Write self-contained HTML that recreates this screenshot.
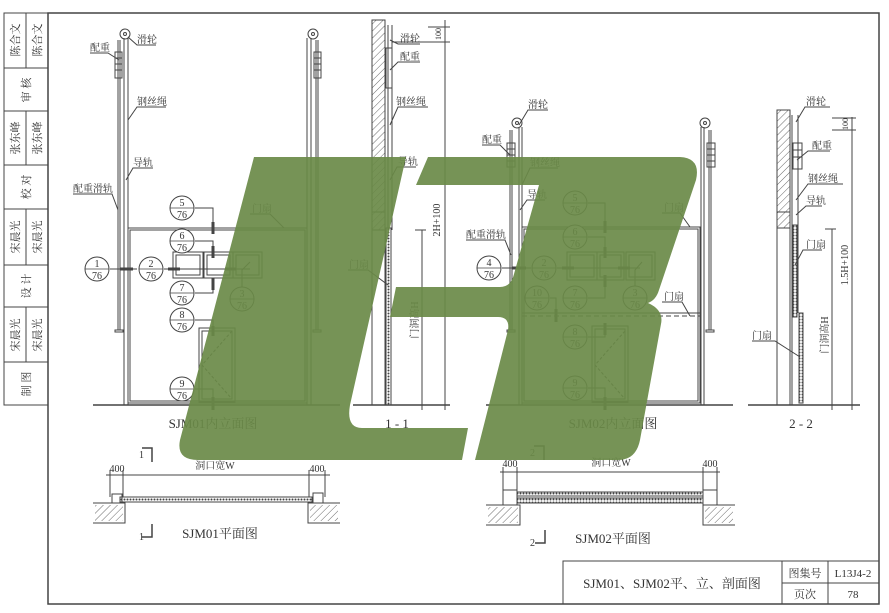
<!DOCTYPE html>
<html><head><meta charset="utf-8"><style>
html,body{margin:0;padding:0;background:#fff;}
svg{display:block;}
text{font-family:"Liberation Serif","Noto Serif CJK SC","Noto Sans CJK SC",serif;fill:#333;}
</style></head><body>
<svg width="889" height="613" viewBox="0 0 889 613" xmlns="http://www.w3.org/2000/svg">
<defs>
<pattern id="hat" width="5" height="5" patternUnits="userSpaceOnUse" patternTransform="rotate(45)">
<line x1="0" y1="0" x2="0" y2="5" stroke="#444" stroke-width="0.8"/></pattern>
<pattern id="dot" width="3" height="3" patternUnits="userSpaceOnUse">
<rect width="3" height="3" fill="#fff"/><circle cx="1.5" cy="1.5" r="1" fill="#444"/></pattern>
</defs>
<g stroke="#444" fill="none" stroke-width="1">
<rect x="48" y="13" width="831" height="591" stroke-width="1.5"/>
<rect x="4" y="13" width="44" height="392"/>
<line x1="4" y1="68" x2="48" y2="68"/><line x1="4" y1="111" x2="48" y2="111"/>
<line x1="4" y1="165" x2="48" y2="165"/><line x1="4" y1="209" x2="48" y2="209"/>
<line x1="4" y1="265" x2="48" y2="265"/><line x1="4" y1="307" x2="48" y2="307"/>
<line x1="4" y1="362" x2="48" y2="362"/>
<line x1="26" y1="13" x2="26" y2="68"/><line x1="26" y1="111" x2="26" y2="165"/>
<line x1="26" y1="209" x2="26" y2="265"/><line x1="26" y1="307" x2="26" y2="362"/>
<rect x="563" y="561" width="316" height="43"/>
<line x1="782" y1="561" x2="782" y2="604"/><line x1="828" y1="561" x2="828" y2="604"/>
<line x1="782" y1="583" x2="879" y2="583"/>

<line x1="93" y1="405" x2="340" y2="405" stroke-width="1.5"/>
<circle cx="125" cy="34" r="5"/><circle cx="125" cy="34" r="1.5"/>
<line x1="118" y1="40" x2="118" y2="330"/><line x1="120" y1="40" x2="120" y2="330"/>
<rect x="115" y="330" width="8" height="2"/>
<rect x="115" y="52" width="7" height="26"/><line x1="115" y1="58" x2="122" y2="58"/><line x1="115" y1="64" x2="122" y2="64"/><line x1="115" y1="70" x2="122" y2="70"/>
<line x1="124" y1="38" x2="124" y2="405"/><line x1="128" y1="38" x2="128" y2="405"/>
<rect x="128" y="228" width="179" height="175"/><rect x="130" y="230" width="175" height="171"/>
<circle cx="313" cy="34" r="5"/><circle cx="313" cy="34" r="1.5"/>
<line x1="316" y1="40" x2="316" y2="330"/><line x1="318" y1="40" x2="318" y2="330"/>
<rect x="313" y="330" width="8" height="2"/>
<rect x="314" y="52" width="7" height="26"/><line x1="314" y1="58" x2="321" y2="58"/><line x1="314" y1="64" x2="321" y2="64"/><line x1="314" y1="70" x2="321" y2="70"/>
<line x1="307" y1="38" x2="307" y2="405"/><line x1="311" y1="38" x2="311" y2="405"/>
<rect x="173" y="252" width="30" height="26"/><rect x="176" y="255" width="24" height="20"/>
<rect x="204" y="252" width="29" height="26"/><rect x="207" y="255" width="23" height="20"/>
<rect x="233" y="252" width="29" height="26"/><rect x="236" y="255" width="23" height="20"/>
<rect x="199" y="328" width="36" height="74"/><rect x="202" y="331" width="30" height="68"/>
<polyline points="232,331 202,365 232,399" stroke-dasharray="3,2"/>
<polyline points="128,37 137,45 156,45"/><polyline points="119,60 108,53 90,53"/>
<polyline points="128,120 137,107 166,107"/><polyline points="126,180 133,168 153,168"/>
<polyline points="118,210 112,194 73,194"/><polyline points="284,228 270,214 250,214"/>
<polyline points="195,208 213,208 213,230"/><polyline points="195,241 213,241 213,258"/>
<polyline points="195,293 213,293 213,278"/><polyline points="195,320 213,320 213,333"/>
<polyline points="195,389 213,389 213,405"/>
<line x1="110" y1="269" x2="137" y2="269"/><line x1="164" y1="269" x2="250" y2="269"/>
<polyline points="242,287 242,270 250,262"/>
<g stroke-width="3">
<line x1="213" y1="222" x2="213" y2="234"/><line x1="213" y1="246" x2="213" y2="258"/><line x1="213" y1="278" x2="213" y2="290"/><line x1="213" y1="326" x2="213" y2="336"/><line x1="213" y1="397" x2="213" y2="410"/>
<line x1="120" y1="269" x2="133" y2="269"/><line x1="168" y1="269" x2="180" y2="269"/><line x1="225" y1="269" x2="236" y2="269"/>
</g>

<rect x="372" y="20" width="13" height="192" fill="url(#hat)"/>
<rect x="372" y="212" width="13" height="18" fill="url(#hat)"/>
<line x1="372" y1="230" x2="372" y2="405"/><line x1="385" y1="230" x2="385" y2="405"/>
<line x1="388" y1="25" x2="388" y2="405"/><line x1="392" y1="25" x2="392" y2="230"/>
<rect x="386" y="48" width="6" height="40"/>
<rect x="386" y="228" width="5" height="177" fill="url(#dot)"/>
<line x1="353" y1="405" x2="450" y2="405" stroke-width="1.5"/>
<line x1="445" y1="20" x2="445" y2="410"/><line x1="422" y1="230" x2="422" y2="410"/>
<line x1="428" y1="27" x2="450" y2="27"/><line x1="392" y1="42" x2="450" y2="42"/>
<line x1="415" y1="230" x2="426" y2="230"/><line x1="415" y1="405" x2="450" y2="405"/>
<polyline points="390,40 398,44 420,44"/><polyline points="390,70 398,62 420,62"/>
<polyline points="390,125 398,107 428,107"/><polyline points="390,180 397,167 416,167"/>
<polyline points="388,285 368,270 348,270"/>

<line x1="486" y1="405" x2="733" y2="405" stroke-width="1.5"/>
<circle cx="517" cy="123" r="5"/><circle cx="517" cy="123" r="1.5"/>
<line x1="510" y1="130" x2="510" y2="330"/><line x1="512" y1="130" x2="512" y2="330"/>
<rect x="507" y="330" width="8" height="2"/>
<rect x="507" y="143" width="8" height="24"/><line x1="507" y1="149" x2="515" y2="149"/><line x1="507" y1="155" x2="515" y2="155"/><line x1="507" y1="161" x2="515" y2="161"/>
<line x1="519" y1="127" x2="519" y2="405"/><line x1="522" y1="127" x2="522" y2="405"/>
<rect x="522" y="227" width="178" height="176"/><rect x="524" y="229" width="174" height="172"/>
<circle cx="705" cy="123" r="5"/><circle cx="705" cy="123" r="1.5"/>
<line x1="709" y1="130" x2="709" y2="330"/><line x1="711" y1="130" x2="711" y2="330"/>
<rect x="706" y="330" width="8" height="2"/>
<rect x="707" y="143" width="8" height="24"/><line x1="707" y1="149" x2="715" y2="149"/><line x1="707" y1="155" x2="715" y2="155"/><line x1="707" y1="161" x2="715" y2="161"/>
<line x1="701" y1="127" x2="701" y2="405"/><line x1="704" y1="127" x2="704" y2="405"/>
<rect x="567" y="252" width="30" height="28"/><rect x="570" y="255" width="24" height="22"/>
<rect x="597" y="252" width="27" height="28"/><rect x="600" y="255" width="21" height="22"/>
<rect x="626" y="252" width="29" height="28"/><rect x="629" y="255" width="23" height="22"/>
<line x1="522" y1="316" x2="700" y2="316" stroke-dasharray="5,3"/><line x1="522" y1="313" x2="700" y2="313"/>
<rect x="592" y="326" width="36" height="76"/><rect x="595" y="329" width="30" height="70"/>
<polyline points="625,331 595,365 625,399" stroke-dasharray="3,2"/>
<polyline points="519,125 528,110 548,110"/><polyline points="510,155 500,145 482,145"/>
<polyline points="522,185 530,168 558,168"/><polyline points="520,210 527,200 545,200"/>
<polyline points="511,255 505,240 466,240"/><polyline points="690,227 680,213 662,213"/>
<polyline points="690,316 682,302 662,302"/>
<polyline points="588,203 605,203 605,228"/><polyline points="588,237 605,237 605,256"/>
<polyline points="588,298 605,298 605,278"/><polyline points="588,337 605,337 605,330"/>
<polyline points="588,388 605,388 605,405"/>
<line x1="502" y1="268" x2="531" y2="268"/><line x1="557" y1="268" x2="640" y2="268"/>
<polyline points="635,286 635,270 642,262"/><polyline points="550,298 556,298 556,316"/>
<g stroke-width="3">
<line x1="605" y1="221" x2="605" y2="233"/><line x1="605" y1="247" x2="605" y2="258"/><line x1="605" y1="275" x2="605" y2="287"/><line x1="605" y1="323" x2="605" y2="335"/><line x1="605" y1="397" x2="605" y2="410"/><line x1="556" y1="309" x2="556" y2="322"/>
<line x1="512" y1="268" x2="526" y2="268"/><line x1="562" y1="268" x2="574" y2="268"/><line x1="618" y1="268" x2="630" y2="268"/>
</g>

<rect x="777" y="110" width="13" height="102" fill="url(#hat)"/>
<rect x="777" y="212" width="13" height="16" fill="url(#hat)"/>
<line x1="777" y1="228" x2="777" y2="405"/><line x1="790" y1="228" x2="790" y2="405"/>
<line x1="792" y1="115" x2="792" y2="405"/><line x1="798" y1="115" x2="798" y2="313"/>
<rect x="793" y="143" width="9" height="26"/><line x1="793" y1="150" x2="802" y2="150"/><line x1="793" y1="157" x2="802" y2="157"/>
<rect x="793" y="225" width="4" height="92" fill="url(#dot)"/>
<rect x="799" y="313" width="4" height="90" fill="url(#dot)"/>
<line x1="748" y1="405" x2="860" y2="405" stroke-width="1.5"/>
<line x1="852" y1="117" x2="852" y2="410"/><line x1="832" y1="229" x2="832" y2="410"/>
<line x1="832" y1="118" x2="856" y2="118"/><line x1="832" y1="130" x2="856" y2="130"/>
<line x1="825" y1="229" x2="836" y2="229"/>
<polyline points="796,122 805,107 830,107"/><polyline points="797,160 808,151 830,151"/>
<polyline points="796,200 808,184 843,184"/><polyline points="796,215 806,206 822,206"/>
<polyline points="795,265 803,250 822,250"/><polyline points="800,357 775,341 752,341"/>

<polyline points="142,448 152,448 152,462" stroke-width="1.5"/>
<polyline points="142,537 152,537 152,524" stroke-width="1.5"/>
<line x1="106" y1="475" x2="330" y2="475"/>
<line x1="110" y1="470" x2="110" y2="497"/><line x1="123" y1="470" x2="123" y2="497"/>
<line x1="309" y1="470" x2="309" y2="497"/><line x1="325" y1="470" x2="325" y2="497"/>
<rect x="120" y="497" width="192" height="5" fill="url(#dot)"/>
<rect x="112" y="494" width="10" height="9"/><rect x="313" y="493" width="10" height="10"/>
<polyline points="93,503 125,503 125,523 93,523"/><rect x="95" y="505" width="28" height="16" fill="url(#hat)" stroke="none"/>
<polyline points="340,503 308,503 308,523 340,523"/><rect x="310" y="505" width="28" height="16" fill="url(#hat)" stroke="none"/>

<polyline points="534,446 544,446 544,460" stroke-width="1.5"/>
<polyline points="535,543 545,543 545,530" stroke-width="1.5"/>
<line x1="500" y1="472" x2="720" y2="472"/>
<line x1="503" y1="467" x2="503" y2="490"/><line x1="517" y1="467" x2="517" y2="490"/>
<line x1="703" y1="467" x2="703" y2="490"/><line x1="717" y1="467" x2="717" y2="490"/>
<rect x="517" y="492" width="186" height="4" fill="url(#dot)"/>
<rect x="517" y="498" width="186" height="5" fill="url(#dot)"/>
<rect x="503" y="490" width="14" height="15"/><rect x="703" y="490" width="14" height="15"/>
<polyline points="486,505 520,505 520,525 486,525"/><rect x="488" y="507" width="30" height="16" fill="url(#hat)" stroke="none"/>
<polyline points="735,505 703,505 703,525 735,525"/><rect x="705" y="507" width="28" height="16" fill="url(#hat)" stroke="none"/>
</g>

<g stroke="#444" fill="#fff" stroke-width="1">
<circle cx="182" cy="208" r="12"/><circle cx="182" cy="241" r="12"/><circle cx="97" cy="269" r="12"/>
<circle cx="151" cy="269" r="12"/><circle cx="182" cy="293" r="12"/><circle cx="242" cy="299" r="12"/>
<circle cx="182" cy="320" r="12"/><circle cx="182" cy="389" r="12"/>
<circle cx="575" cy="203" r="12"/><circle cx="575" cy="237" r="12"/><circle cx="489" cy="268" r="12"/>
<circle cx="544" cy="268" r="12"/><circle cx="537" cy="298" r="12"/><circle cx="575" cy="298" r="12"/>
<circle cx="635" cy="298" r="12"/><circle cx="575" cy="337" r="12"/><circle cx="575" cy="388" r="12"/>
</g>
<g stroke="#444" stroke-width="0.8">
<line x1="170" y1="208" x2="194" y2="208"/><line x1="170" y1="241" x2="194" y2="241"/><line x1="85" y1="269" x2="109" y2="269"/>
<line x1="139" y1="269" x2="163" y2="269"/><line x1="170" y1="293" x2="194" y2="293"/><line x1="230" y1="299" x2="254" y2="299"/>
<line x1="170" y1="320" x2="194" y2="320"/><line x1="170" y1="389" x2="194" y2="389"/>
<line x1="563" y1="203" x2="587" y2="203"/><line x1="563" y1="237" x2="587" y2="237"/><line x1="477" y1="268" x2="501" y2="268"/>
<line x1="532" y1="268" x2="556" y2="268"/><line x1="525" y1="298" x2="549" y2="298"/><line x1="563" y1="298" x2="587" y2="298"/>
<line x1="623" y1="298" x2="647" y2="298"/><line x1="563" y1="337" x2="587" y2="337"/><line x1="563" y1="388" x2="587" y2="388"/>
</g>
<g font-size="10" text-anchor="middle">
<text x="182" y="206">5</text><text x="182" y="218">76</text>
<text x="182" y="239">6</text><text x="182" y="251">76</text>
<text x="97" y="267">1</text><text x="97" y="279">76</text>
<text x="151" y="267">2</text><text x="151" y="279">76</text>
<text x="182" y="291">7</text><text x="182" y="303">76</text>
<text x="242" y="297">3</text><text x="242" y="309">76</text>
<text x="182" y="318">8</text><text x="182" y="330">76</text>
<text x="182" y="387">9</text><text x="182" y="399">76</text>
<text x="575" y="201">5</text><text x="575" y="213">76</text>
<text x="575" y="235">6</text><text x="575" y="247">76</text>
<text x="489" y="266">4</text><text x="489" y="278">76</text>
<text x="544" y="266">2</text><text x="544" y="278">76</text>
<text x="537" y="296">10</text><text x="537" y="308">76</text>
<text x="575" y="296">7</text><text x="575" y="308">76</text>
<text x="635" y="296">3</text><text x="635" y="308">76</text>
<text x="575" y="335">8</text><text x="575" y="347">76</text>
<text x="575" y="386">9</text><text x="575" y="398">76</text>
</g>

<g font-size="10" font-family="Liberation Sans,Noto Sans CJK SC,sans-serif">
<text x="137" y="43">滑轮</text><text x="90" y="51">配重</text><text x="137" y="105">钢丝绳</text>
<text x="133" y="166">导轨</text><text x="73" y="192">配重滑轨</text><text x="252" y="212">门扇</text>
<text x="400" y="42">滑轮</text><text x="400" y="60">配重</text><text x="396" y="105">钢丝绳</text>
<text x="398" y="165">导轨</text><text x="349" y="268">门扇</text>
<text x="528" y="108">滑轮</text><text x="482" y="143">配重</text><text x="530" y="166">钢丝绳</text>
<text x="527" y="198">导轨</text><text x="466" y="238">配重滑轨</text><text x="664" y="211">门扇</text><text x="664" y="300">门扇</text>
<text x="806" y="105">滑轮</text><text x="812" y="149">配重</text><text x="808" y="182">钢丝绳</text>
<text x="806" y="204">导轨</text><text x="806" y="248">门扇</text><text x="752" y="339">门扇</text>
</g>
<g font-size="10">
<text transform="translate(440,220) rotate(-90)" text-anchor="middle">2H+100</text>
<text transform="translate(418,320) rotate(-90)" text-anchor="middle">门洞高H</text>
<text transform="translate(441,34) rotate(-90)" text-anchor="middle" font-size="8">100</text>
<text transform="translate(848,265) rotate(-90)" text-anchor="middle">1.5H+100</text>
<text transform="translate(828,335) rotate(-90)" text-anchor="middle">门洞高H</text>
<text transform="translate(848,124) rotate(-90)" text-anchor="middle" font-size="8">100</text>
<text x="117" y="472" text-anchor="middle">400</text><text x="215" y="469" text-anchor="middle">洞口宽W</text><text x="317" y="472" text-anchor="middle">400</text>
<text x="510" y="467" text-anchor="middle">400</text><text x="611" y="466" text-anchor="middle">洞口宽W</text><text x="710" y="467" text-anchor="middle">400</text>
<text x="139" y="458">1</text><text x="139" y="540">1</text><text x="530" y="456">2</text><text x="530" y="546">2</text>
</g>
<g font-size="13" text-anchor="middle">
<text x="213" y="428">SJM01内立面图</text><text x="397" y="428">1 - 1</text>
<text x="613" y="428">SJM02内立面图</text><text x="801" y="428">2 - 2</text>
<text x="220" y="538">SJM01平面图</text><text x="613" y="543">SJM02平面图</text>
<text x="672" y="588">SJM01、SJM02平、立、剖面图</text>
</g>
<g font-size="11" text-anchor="middle">
<text x="805" y="577">图集号</text><text x="853" y="577">L13J4-2</text>
<text x="805" y="598">页次</text><text x="853" y="598">78</text>
</g>
<g font-size="11" text-anchor="middle">
<text transform="translate(19,40) rotate(-90)">陈合文</text><text transform="translate(41,40) rotate(-90)" fill="#555">陈合文</text>
<text transform="translate(30,90) rotate(-90)">审 核</text>
<text transform="translate(19,138) rotate(-90)">张东峰</text><text transform="translate(41,138) rotate(-90)" fill="#555">张东峰</text>
<text transform="translate(30,187) rotate(-90)">校 对</text>
<text transform="translate(19,237) rotate(-90)">宋晨光</text><text transform="translate(41,237) rotate(-90)" fill="#555">宋晨光</text>
<text transform="translate(30,286) rotate(-90)">设 计</text>
<text transform="translate(19,335) rotate(-90)">宋晨光</text><text transform="translate(41,335) rotate(-90)" fill="#555">宋晨光</text>
<text transform="translate(30,384) rotate(-90)">制 图</text>
</g>

<g fill="#6a8a48" fill-opacity="0.92" stroke="none">
<path d="M254,157 L406,157 L350,405 Q346,428 362,428 L468,428 L462,460 L198,460 Q176,460 180,440 Z"/>
<path d="M428,157 L680,157 Q701,158 696,180 L659,290 Q656,300 648,303 Q664,310 661,324 L640,440 Q636,460 618,460 L475,460 L508,330 Q510,317 498,317 L390,317 L396,287 L500,287 Q511,287 514,274 L539,185 L416,185 Z"/>
</g>
</svg>
</body></html>
